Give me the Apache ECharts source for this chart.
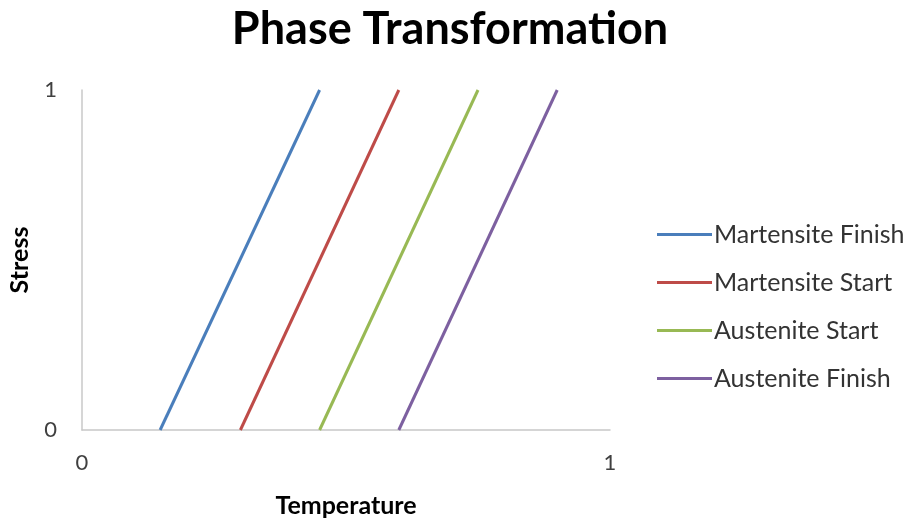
<!DOCTYPE html>
<html><head><meta charset="utf-8">
<script src="https://cdn.jsdelivr.net/npm/echarts@6/dist/echarts.min.js"></script>
<style>html,body{margin:0;padding:0;background:#fff}#c{width:905px;height:521px}</style>
</head><body><div id="c"></div>
<script>
const seriesNames = ["Martensite Finish", "Martensite Start", "Austenite Start", "Austenite Finish"];
const stress = [0, 1];
const mfTemp = [0.148, 0.45];
const msTemp = [0.30, 0.60];
const asTemp = [0.45, 0.75];
const afTemp = [0.60, 0.90];
const xTicks = [0, 1];
const yTicks = [0, 1];
const colors = ["#4a7ebb", "#be4b48", "#98b954", "#7d60a0"];
const temps = [mfTemp, msTemp, asTemp, afTemp];
const FONT = "Lato";
const chart = echarts.init(document.getElementById('c'), null, {renderer: 'canvas'});
chart.setOption({
  animation: false,
  title: {text: "Phase Transformation", left: 445, top: 2, textAlign: 'center',
    textStyle: {fontFamily: FONT, fontWeight: 'bold', fontSize: 45, color: '#000'}},
  grid: {left: 82, right: 295, top: 90, bottom: 91, outerBoundsMode: 'none', containLabel: false},
  legend: {orient: 'vertical', left: 652, top: 217, itemWidth: 55, itemHeight: 3, itemGap: 23, icon: 'rect',
    textStyle: {fontFamily: FONT, fontSize: 25, color: '#333', padding: [0,0,0,-3]},
    data: seriesNames},
  xAxis: {type: 'value', min: xTicks[0], max: xTicks[1], interval: 1, name: 'Temperature', nameLocation: 'middle', nameGap: 63,
    nameTextStyle: {fontFamily: FONT, fontWeight: 'bold', fontSize: 25, color: '#000'},
    axisLine: {lineStyle: {color: '#c8c8c8', width: 1.5}}, axisTick: {show: false}, splitLine: {show: false},
    axisLabel: {margin: 22, fontFamily: FONT, fontSize: 22, color: '#404040'}},
  yAxis: {type: 'value', min: yTicks[0], max: yTicks[1], interval: 1, name: 'Stress', nameLocation: 'middle', nameGap: 50, nameRotate: 90,
    nameTextStyle: {fontFamily: FONT, fontWeight: 'bold', fontSize: 25, color: '#000'},
    axisLine: {show: true, lineStyle: {color: '#c8c8c8', width: 1.5}}, axisTick: {show: false}, splitLine: {show: false},
    axisLabel: {margin: 25, fontFamily: FONT, fontSize: 22, color: '#404040'}},
  series: seriesNames.map((n, i) => ({
    name: n, type: 'line', symbol: 'none', color: colors[i],
    lineStyle: {width: 3, color: colors[i]},
    data: temps[i].map((t, k) => [t, stress[k]])
  }))
});
</script></body></html>
